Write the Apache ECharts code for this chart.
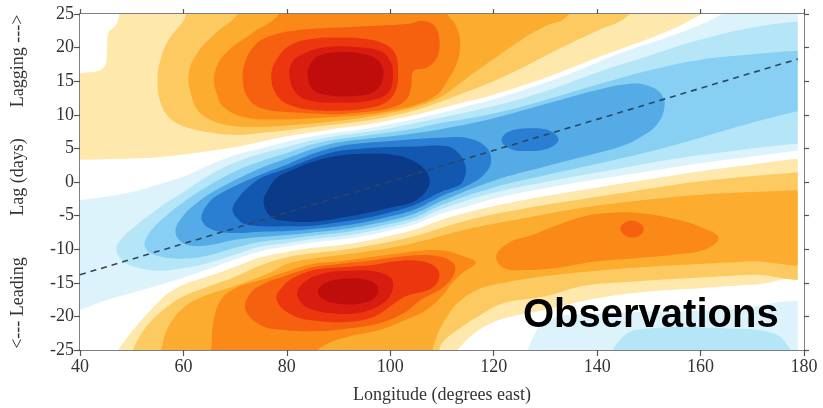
<!DOCTYPE html>
<html><head><meta charset="utf-8">
<script src="https://cdn.jsdelivr.net/npm/echarts@6/dist/echarts.min.js"></script>
<style>html,body{margin:0;padding:0;background:#fff}#chart{width:823px;height:408px}</style>
</head><body><div id="chart"></div>
<script>
// ---- Contour outlines: [longitude, lag] vertices ----
const fieldBox = [[38,-27],[182,-27],[182,27],[38,27]];
const fieldEdge = [[178.8,-27],[182,-27],[182,27],[178.8,27]];
// zero-level (white) areas
const whiteNotch = [[38,27],[47.5,27],[47.5,24.5],[46.8,23.2],[45.5,22.2],[45.2,19],[44.8,17.3],[43.5,16.5],[41,16.3],[38,16.3]];
const whiteBand = [[38,3.3],[40,3.3],[50,3.5],[55,3.7],[60,4.1],[65,4.6],[70,5.2],[75,6],[80,6.8],[85,7.4],[90,8],[95,8.5],[100,9.2],[105,10],[110,11],[115,12],[120,13],[125,14.2],[130,15.5],[135,17],[140,18.5],[145,19.9],[150,21.3],[155,22.9],[158.5,24.3],[161,25.5],[162.5,27],[182,27],[182,3.7],[180,3.6],[170,2.6],[160,1.6],[150,0.4],[140,-0.8],[130,-2.1],[120,-3.6],[115,-4.5],[110,-5.6],[105,-7],[100,-8],[95,-8.8],[90,-9.4],[85,-9.8],[80,-10.4],[75,-11.2],[70,-12.6],[65,-14],[60,-15.3],[57,-16.6],[55,-18],[52.5,-20],[50.5,-21.8],[48.5,-23.8],[47.3,-25.2],[47,-27],[38,-27]];
const whiteLowerRight = [[111,-27],[113,-25],[115.5,-23],[118.5,-21.4],[122,-20.3],[130,-19],[140,-17.3],[150,-16.3],[160,-15.8],[170,-15.3],[182,-15],[182,-27]];
// negative levels (blue band)
const neg1Band = [[38,-2.9],[40,-2.7],[45,-2.2],[50,-1.5],[55,-0.4],[60,0.8],[65,2.5],[70,4],[75,5],[80,6],[85,6.8],[90,7.4],[95,7.9],[100,8.6],[105,9.4],[110,10.3],[115,11.3],[120,12.3],[125,13.5],[130,14.8],[135,16.2],[140,17.8],[145,19.3],[150,20.6],[155,21.9],[160,23.4],[163,24.5],[166,26],[167,27],[182,27],[182,4.9],[180,4.8],[170,3.8],[160,2.8],[150,1.6],[140,0.4],[130,-0.9],[120,-2.5],[115,-3.6],[110,-4.7],[105,-6.2],[100,-7.2],[95,-8],[90,-8.6],[85,-9],[80,-9.6],[75,-10.3],[70,-11.5],[65,-12.9],[60,-14.2],[55,-15.4],[50,-16.5],[45,-17.6],[40,-19],[38,-19.3]];
const neg1LowerRight = [[127,-27],[128,-22.5],[131,-20.3],[140,-19.6],[150,-19.3],[165,-19],[182,-18.5],[182,-27]];
const neg2Band = [[47,-10],[48,-8.5],[50,-7],[55,-4],[60,-1.5],[65,1],[70,2.9],[75,4.2],[80,5.2],[85,6.2],[90,6.9],[95,7.4],[100,8],[105,8.8],[110,9.6],[120,11.3],[130,13.5],[140,16.3],[150,18.8],[160,21.2],[170,23],[180,24],[182,24.1],[182,5.9],[180,5.8],[170,5],[160,4],[150,2.8],[140,1.4],[130,0],[120,-1.6],[110,-4],[105,-5.7],[100,-6.7],[95,-7.5],[90,-8.1],[85,-8.5],[80,-9.1],[75,-9.6],[70,-10.8],[65,-12],[60,-12.8],[55,-13.2],[50,-12.5],[48,-11.5]];
const neg2LowerRight = [[143,-27],[145,-23],[150,-21.8],[165,-21.8],[174,-22.5],[177,-24.5],[178,-27]];
const neg3Band = [[52.5,-9],[54,-7],[57,-4.8],[60,-3],[65,-0.5],[70,1.6],[75,3.1],[80,4.3],[85,5.6],[90,6.4],[95,6.9],[100,7.4],[105,8],[110,8.8],[120,10.2],[130,12.2],[140,14.5],[150,16.6],[160,18.2],[170,19],[180,19.6],[182,19.6],[182,10.7],[180,10.7],[170,8.8],[160,6.6],[150,4.5],[140,2.7],[130,1],[120,-0.8],[110,-3.4],[105,-5.2],[100,-6.2],[95,-7],[90,-7.6],[85,-8],[80,-8.5],[75,-8.9],[70,-9.8],[65,-10.9],[60,-11.4],[55,-11],[53,-10.2]];
const neg4Band = [[58.5,-7],[60,-5],[62,-3.5],[65,-1.8],[70,0.3],[75,2.1],[80,3.5],[85,4.9],[90,5.9],[95,6.4],[100,6.8],[105,7.3],[110,7.9],[120,9.5],[130,11.6],[140,13.7],[146,14.6],[150,14.3],[152.5,13],[153,11],[151.5,8.5],[148,6.5],[145,5.4],[140,4.3],[130,2.3],[120,0.2],[110,-2.8],[105,-4.6],[100,-5.7],[95,-6.5],[90,-7.1],[85,-7.5],[80,-7.9],[75,-8.2],[70,-8.6],[65,-9.4],[61,-9.4],[59,-8.5]];
const neg5Core = [[63.5,-5],[65,-3],[67,-1.8],[70,-0.6],[75,1.1],[80,2.6],[85,4.2],[90,5.3],[95,5.8],[100,6.1],[105,6.4],[110,6.6],[115,6.5],[118.5,5.2],[119.5,3],[118,1],[115,-0.5],[110,-2.1],[105,-4],[100,-5.1],[95,-6],[90,-6.6],[85,-7],[80,-7.3],[75,-7.4],[70,-7.6],[66,-7.2],[64,-6.3]];
const neg5Patch = [[121.5,6.2],[123,7.5],[127,8],[131,7.6],[132.5,6.3],[130.5,5],[126,4.6],[123,5]];
const neg6Core = [[69.5,-4],[71,-2],[73,-0.5],[75,0.6],[80,2],[85,3.5],[90,4.6],[95,5],[100,5.2],[105,5.3],[110,5.4],[112.5,4.8],[114.5,2.5],[114,0],[112,-0.9],[110,-1.4],[105,-3.3],[100,-4.5],[95,-5.4],[90,-6],[85,-6.5],[80,-6.6],[75,-6.6],[72,-6.3],[70.5,-5.5]];
const neg7Core = [[75.5,-3],[76.5,-1],[78,0.6],[80,1.4],[85,3],[90,3.9],[95,4.2],[100,4.1],[104,3.3],[107,1.5],[107.5,-0.5],[105,-2.7],[100,-3.8],[95,-4.7],[90,-5.4],[85,-5.9],[80,-5.8],[77,-5.2]];
// positive levels, upper blob (lagging)
const pos2Upper = [[62,27],[60,24],[57,21],[55.5,18],[55,15],[55.5,12],[57,9.8],[60,8.3],[65,7.4],[70,7],[75,7.3],[80,7.7],[85,8.2],[90,8.6],[95,9.1],[100,9.8],[105,10.7],[110,12],[115,13.5],[120,15],[125,16.8],[130,18.8],[135,20.7],[140,22.5],[145.6,24.5],[147.5,27]];
const pos3Upper = [[72,27],[70,24.5],[66,22],[62.5,19],[61,16],[61.5,13],[63,10.5],[66,9],[70,8.3],[75,8.2],[80,8.4],[85,8.7],[90,9.1],[95,9.6],[100,10.3],[105,11.2],[110,12.8],[115,15.6],[120,18.3],[125,21],[130,23.2],[134,24.5],[135.5,27]];
const pos4Upper = [[80,27],[78,24.5],[73,22],[68,19],[66,16],[66.5,13],[68,11],[72,9.6],[78,9.3],[85,9.5],[90,9.7],[95,10],[100,10.6],[105,11.5],[109,13],[111,15],[113,18],[113.5,21],[112.5,23.5],[111,25],[110,27]];
const pos5Upper = [[74,20.5],[72,18],[71.5,15],[72.5,12.5],[75,11],[80,10.4],[85,10.2],[90,10.1],[95,10.4],[100,11],[103,12.2],[104,14],[104.5,16.5],[107,17],[109,18.5],[109.5,21],[108.5,23.3],[106,24],[104,23.6],[98,23.3],[90,23],[82,22.6],[77,21.8]];
const pos6Upper = [[77,16],[78,13],[80.5,11.5],[85,10.7],[90,10.6],[95,10.9],[99,11.8],[101,13.5],[101.5,16],[101,19],[99,20.5],[95,21.3],[90,21.5],[85,21.3],[81,20.5],[78.5,18.8]];
const pos7Upper = [[80.5,16],[81.5,13.5],[84,12.2],[90,11.8],[96,12.1],[99.5,13.2],[100.5,15.5],[100,18],[98,19.5],[93,20.1],[87,20],[83,19],[81,17.8]];
const pos8Upper = [[84,16],[85,13.8],[88,12.9],[93,12.8],[97,13.5],[98.6,15.5],[98,17.8],[95,19],[90,19.3],[86,18.7],[84.5,17.5]];
// positive levels, lower blob (leading) and eastern patch
const pos2Lower = [[49.5,-27],[50,-25.5],[51.5,-23],[54,-20.5],[57,-18.5],[60,-17],[65,-15.5],[70,-14.1],[75,-12.4],[80,-11.2],[85,-10.6],[90,-10.2],[95,-9.6],[100,-8.9],[105,-8],[110,-6.8],[115,-5.7],[120,-4.8],[125,-4.1],[130,-3.4],[135,-2.8],[140,-2.2],[145,-1.6],[150,-1],[155,-0.4],[160,0.1],[170,0.9],[180,1.5],[182,1.6],[182,-13.5],[170,-13.8],[160,-14.2],[147,-14.8],[137,-15.5],[130,-17],[122,-18],[117,-20],[113,-22],[110,-24],[108,-27]];
const pos3Lower = [[56,-27],[56,-24],[57.5,-21],[60,-18.7],[63,-17.3],[67,-16.2],[72,-14.9],[77,-13.4],[80,-12.2],[85,-11.4],[90,-10.9],[95,-10.4],[100,-9.8],[105,-9],[110,-8],[115,-7],[120,-6.2],[125,-5.5],[130,-4.8],[135,-4.1],[140,-3.5],[150,-2.6],[160,-1.9],[170,-1.5],[180,-1.2],[182,-1.1],[182,-11.5],[170,-11.8],[160,-12.2],[150,-12.6],[140,-13.2],[130,-14],[122,-15],[117,-16],[113,-18],[111,-20],[109.5,-22],[108.5,-24],[107,-27]];
const pos4Lower = [[66,-27],[65.5,-24],[66,-20],[67.5,-17.3],[70,-15.8],[75,-14.6],[80,-13.3],[85,-12.2],[90,-11.8],[95,-11.3],[100,-10.8],[105,-10.3],[110,-10.2],[114,-11],[116.5,-12],[114,-13.5],[112,-15],[110,-17],[107,-19],[103,-20.5],[98,-22],[92,-23],[88,-24],[85,-25.5],[83,-27]];
const pos4East = [[120.5,-11],[123,-9],[127,-8],[132,-6.5],[137,-5.2],[142,-4.6],[148,-4.6],[155,-5.5],[160,-6.7],[163.5,-8.3],[161,-10],[155,-10.8],[148,-11.3],[140,-11.8],[132,-12.8],[126,-13.1],[122,-12.8]];
const pos5Lower = [[72,-19],[73,-16.5],[76,-15],[80,-13.9],[85,-12.7],[90,-12.2],[95,-11.8],[100,-11.3],[105,-10.9],[109,-11],[112,-11.9],[112.5,-13.3],[110.5,-15.5],[106,-17.5],[103,-19.3],[98,-21],[92,-21.8],[85,-22.2],[79,-22],[75,-21.3]];
const pos5East = [[144.5,-6.9],[146,-5.8],[148.2,-6.1],[149,-7.2],[147.5,-8.2],[145.5,-8]];
const pos6Lower = [[78,-17.5],[79.5,-15.3],[82,-14],[86,-13],[92,-12.6],[97,-12.3],[101,-11.8],[105,-11.7],[108.5,-12.5],[109.5,-14],[108,-15.8],[103,-17],[100,-18.5],[97,-20],[92,-20.8],[86,-20.7],[81,-19.8]];
const pos7Lower = [[82,-16.5],[83.5,-14.8],[87,-13.6],[92,-13.2],[97,-13.3],[100,-14.2],[100.5,-15.8],[99,-17.8],[95,-19.3],[90,-19.6],[85,-19],[82.8,-18]];
const pos8Lower = [[86,-16.2],[87.5,-15],[91,-14.4],[95,-14.5],[97.5,-15.5],[97,-17.2],[94,-18.1],[90,-18.1],[87,-17.4]];
// dashed reference line
const lineLon = [40, 178.8];
const lineLag = [-13.8, 18.3];
// axis ticks
const lonTicks = [40, 60, 80, 100, 120, 140, 160, 180];
const lagTicks = [-25, -20, -15, -10, -5, 0, 5, 10, 15, 20, 25];

// colour for each contour level
const levelColor = {
  '8': '#bf0d0b', '7': '#d91c10', '6': '#ec370e', '5': '#f6610f', '4': '#fb8918',
  '3': '#fcac2e', '2': '#fdca62', '1': '#fee8ab', '0': '#ffffff',
  '-1': '#dcf3fb', '-2': '#b4e6f8', '-3': '#87d0f3', '-4': '#55abe6',
  '-5': '#2a7fd2', '-6': '#1257b0', '-7': '#0a3a88'
};
// drawing order (outer levels first); third entry: whether outline is a smooth contour
const layers = [
  [fieldBox, 1, false],
  [whiteNotch, 0, true], [whiteBand, 0, true], [whiteLowerRight, 0, true],
  [neg1Band, -1, true], [neg1LowerRight, -1, true],
  [neg2Band, -2, true], [neg2LowerRight, -2, true],
  [neg3Band, -3, true], [neg4Band, -4, true], [neg5Core, -5, true], [neg5Patch, -5, true],
  [neg6Core, -6, true], [neg7Core, -7, true],
  [pos2Upper, 2, true], [pos2Lower, 2, true],
  [pos3Upper, 3, true], [pos3Lower, 3, true],
  [pos4Upper, 4, true], [pos4Lower, 4, true], [pos4East, 4, true],
  [pos5Upper, 5, true], [pos5Lower, 5, true], [pos5East, 5, true],
  [pos6Upper, 6, true], [pos6Lower, 6, true],
  [pos7Upper, 7, true], [pos7Lower, 7, true],
  [pos8Upper, 8, true], [pos8Lower, 8, true],
  [fieldEdge, 0, false]
];

const serif = '"Liberation Serif", "DejaVu Serif", serif';
const axisCol = '#555';
const lonMin = lonTicks[0], lonMax = lonTicks[lonTicks.length - 1];
const lagMin = lagTicks[0], lagMax = lagTicks[lagTicks.length - 1];
const chart = echarts.init(document.getElementById('chart'), null, {renderer: 'canvas'});
const valueAxis = (pos, min, max, interval, labels, tickLen) => ({
  type: 'value', position: pos, min: min, max: max, interval: interval,
  axisLine: {show: true, onZero: false, lineStyle: {color: axisCol, width: 1.5}},
  axisTick: {show: true, length: tickLen, lineStyle: {color: axisCol, width: 1.2}},
  axisLabel: labels ? {color: '#333', fontFamily: serif, fontSize: 18, margin: pos === 'left' ? 6 : 8} : {show: false},
  splitLine: {show: false}
});
chart.setOption({
  animation: false,
  backgroundColor: '#fff',
  grid: {left: 80, right: 19, top: 14, bottom: 58},
  xAxis: [
    valueAxis('bottom', lonMin, lonMax, 20, true, 6),
    valueAxis('top', lonMin, lonMax, 20, false, 5)
  ],
  yAxis: [
    valueAxis('left', lagMin, lagMax, 5, true, 6),
    valueAxis('right', lagMin, lagMax, 5, false, 5)
  ],
  series: [
    {type: 'custom', coordinateSystem: 'cartesian2d', xAxisIndex: 0, yAxisIndex: 0,
     silent: true, clip: true,
     data: layers.map((l, i) => [l[0][0][0], l[0][0][1], i]),
     encode: {x: 0, y: 1},
     renderItem: function (params, api) {
       const layer = layers[params.dataIndex];
       return {
         type: 'polygon',
         shape: {points: layer[0].map(p => api.coord(p)), smooth: layer[2] ? 0.4 : 0},
         style: {fill: levelColor[String(layer[1])], stroke: null}
       };
     }},
    {type: 'line', xAxisIndex: 0, yAxisIndex: 0, silent: true, symbol: 'none',
     data: lineLon.map((x, k) => [x, lineLag[k]]),
     lineStyle: {type: [6, 5], color: '#2d4760', width: 1.6}, z: 5}
  ],
  graphic: [
    {type: 'text', x: 442, y: 395, silent: true,
     style: {text: 'Longitude (degrees east)', font: '18px ' + serif, fill: '#333', align: 'center', verticalAlign: 'middle'}},
    {type: 'text', x: 18, y: 61, rotation: Math.PI / 2, silent: true,
     style: {text: 'Lagging --->', font: '18px ' + serif, fill: '#333', align: 'center', verticalAlign: 'middle'}},
    {type: 'text', x: 18, y: 177, rotation: Math.PI / 2, silent: true,
     style: {text: 'Lag (days)', font: '18px ' + serif, fill: '#333', align: 'center', verticalAlign: 'middle'}},
    {type: 'text', x: 18, y: 303, rotation: Math.PI / 2, silent: true,
     style: {text: '<--- Leading', font: '18px ' + serif, fill: '#333', align: 'center', verticalAlign: 'middle'}},
    {type: 'text', x: 523, y: 316, silent: true, z: 10,
     style: {text: 'Observations', font: 'bold 40px "Liberation Sans", Arial, sans-serif', fill: '#000', align: 'left', verticalAlign: 'middle'}}
  ]
});
</script></body></html>
